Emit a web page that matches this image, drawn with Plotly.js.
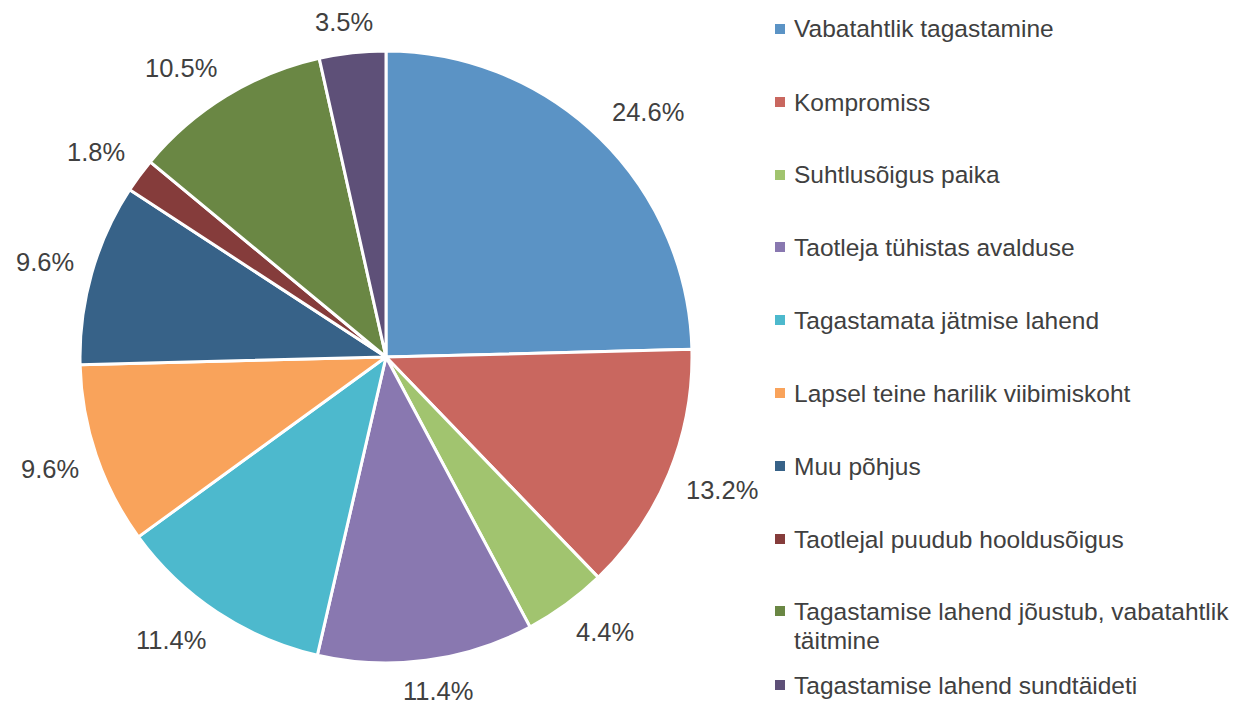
<!DOCTYPE html>
<html>
<head>
<meta charset="utf-8">
<script src="https://cdn.plot.ly/plotly-3.0.1.min.js"></script>
<style>html,body{margin:0;padding:0;background:#fff;}#chart{width:1233px;height:704px;}</style>
</head>
<body>
<div id="chart"></div>
<script>
const categories = [
  "Vabatahtlik tagastamine",
  "Kompromiss",
  "Suhtlusõigus paika",
  "Taotleja tühistas avalduse",
  "Tagastamata jätmise lahend",
  "Lapsel teine harilik viibimiskoht",
  "Muu põhjus",
  "Taotlejal puudub hooldusõigus",
  "Tagastamise lahend jõustub, vabatahtlik täitmine",
  "Tagastamise lahend sundtäideti"
];
const percentages = [24.6, 13.2, 4.4, 11.4, 11.4, 9.6, 9.6, 1.8, 10.5, 3.5];
const colors = ["#5B93C5", "#C9675F", "#A1C46F", "#8978B0", "#4DB9CD",
                "#F9A35B", "#376288", "#853C3B", "#6A8744", "#5E5078"];
const legendLines = [
  ["Vabatahtlik tagastamine"],
  ["Kompromiss"],
  ["Suhtlusõigus paika"],
  ["Taotleja tühistas avalduse"],
  ["Tagastamata jätmise lahend"],
  ["Lapsel teine harilik viibimiskoht"],
  ["Muu põhjus"],
  ["Taotlejal puudub hooldusõigus"],
  ["Tagastamise lahend jõustub, vabatahtlik", "täitmine"],
  ["Tagastamise lahend sundtäideti"]
];

const W = 1233, H = 704;
const FONT = "Liberation Sans, Arial, sans-serif";
const TXT = "#404040";
const LABEL_SIZE = 25.5;
const LEGEND_SIZE = 24.5;

const trace = {
  type: "pie",
  labels: categories,
  values: percentages,
  sort: false,
  direction: "clockwise",
  rotation: 0,
  marker: {colors: colors, line: {color: "#ffffff", width: 3}},
  textinfo: "none",
  hoverinfo: "label+percent",
  domain: {x: [80 / W, 692 / W], y: [41 / H, 653 / H]},
  showlegend: false
};

// Percent labels outside the slices, positioned from the cumulative values
const cx = 386, cy = 357, R = 306, gap = 18;
const total = percentages.reduce((a, b) => a + b, 0);
const annotations = [];
let cum = 0;
percentages.forEach((v, i) => {
  const mid = (cum + v / 2) / total * 2 * Math.PI;
  cum += v;
  const txt = v.toFixed(1) + "%";
  const w = ((txt.length - 2) * 0.556 + 0.278 + 0.889) * LABEL_SIZE;
  const h = LABEL_SIZE;
  const s = Math.sin(mid), c = Math.cos(mid);
  const ox = Math.sign(s) * Math.min(1, Math.abs(s) * 2) * w / 2;
  const oy = -Math.sign(c) * Math.min(1, Math.abs(c) * 2) * h / 2;
  const px = cx + (R + gap) * s + ox;
  const py = cy - (R + gap) * c + oy;
  annotations.push({
    xref: "paper", yref: "paper",
    x: px / W, y: 1 - py / H,
    xanchor: "center", yanchor: "middle",
    text: txt,
    showarrow: false,
    font: {family: FONT, size: LABEL_SIZE, color: TXT}
  });
});

// Legend
const legendY = [29, 102, 175, 247, 320, 393, 466, 539, 611, 685];
const shapes = [];
legendLines.forEach((lines, i) => {
  const y0 = legendY[i];
  shapes.push({
    type: "rect", xref: "paper", yref: "paper",
    x0: 775 / W, x1: 785 / W,
    y0: 1 - (y0 + 5) / H, y1: 1 - (y0 - 5) / H,
    fillcolor: colors[i], line: {width: 0}
  });
  lines.forEach((t, j) => {
    annotations.push({
      xref: "paper", yref: "paper",
      x: 792 / W, y: 1 - (y0 + j * 29) / H,
      xanchor: "left", yanchor: "middle",
      text: t, showarrow: false,
      font: {family: FONT, size: LEGEND_SIZE, color: TXT}
    });
  });
});

const layout = {
  width: W, height: H,
  margin: {l: 0, r: 0, t: 0, b: 0},
  paper_bgcolor: "#ffffff",
  showlegend: false,
  annotations: annotations,
  shapes: shapes
};

Plotly.newPlot("chart", [trace], layout, {displayModeBar: false, staticPlot: true});
</script>
</body>
</html>
